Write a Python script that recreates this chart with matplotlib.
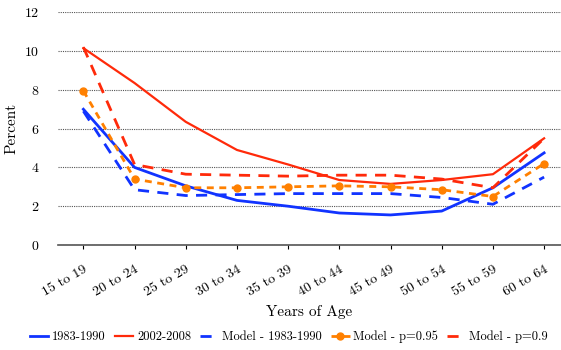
import matplotlib
matplotlib.use("Agg")
import matplotlib.pyplot as plt

plt.rcParams["font.family"] = ["cmr10", "DejaVu Serif"]
plt.rcParams["axes.formatter.use_mathtext"] = True
plt.rcParams["mathtext.fontset"] = "cm"

AGE_GROUPS = ["15 to 19", "20 to 24", "25 to 29", "30 to 34", "35 to 39",
              "40 to 44", "45 to 49", "50 to 54", "55 to 59", "60 to 64"]

obs_1983 = [7.0, 4.0, 3.05, 2.3, 2.0, 1.65, 1.55, 1.75, 2.95, 4.75]
obs_2002 = [10.15, 8.35, 6.35, 4.9, 4.15, 3.35, 3.15, 3.35, 3.65, 5.5]
model_1983 = [6.9, 2.85, 2.55, 2.6, 2.65, 2.65, 2.65, 2.45, 2.1, 3.5]
model_p095 = [7.95, 3.4, 2.95, 2.95, 3.0, 3.05, 3.0, 2.85, 2.5, 4.2]
model_p090 = [10.2, 4.15, 3.65, 3.6, 3.55, 3.6, 3.6, 3.4, 2.95, 5.5]

BLUE = "#1133ff"
RED = "#ff2a0a"
ORANGE = "#ff8000"

fig = plt.figure(figsize=(5.61, 3.5), dpi=100)
ax = fig.add_axes([0.103, 0.30, 0.897, 0.665])

x = list(range(len(AGE_GROUPS)))
ax.plot(x, obs_1983, color=BLUE, lw=2, label="1983-1990")
ax.plot(x, obs_2002, color=RED, lw=1.6, label="2002-2008")
ax.plot(x, model_1983, color=BLUE, lw=2, ls=(0, (4, 3)), label="Model - 1983-1990")
ax.plot(x, model_p095, color=ORANGE, lw=2, ls=(0, (2.5, 2)), marker="o",
        ms=5, label="Model - p=0.95")
ax.plot(x, model_p090, color=RED, lw=2, ls=(0, (4, 3)), label="Model - p=0.9")

ax.set_xlim(-0.5, 9.33)
ax.set_ylim(0, 12)
ax.set_yticks(range(0, 13, 2))
ax.set_xticks(x)
ax.set_xticklabels(AGE_GROUPS, rotation=30, ha="right", rotation_mode="anchor",
                   fontsize=10)
ax.tick_params(axis="y", length=0, labelsize=10, pad=13)
ax.tick_params(axis="x", length=3, width=0.8, direction="out", pad=10)
ax.yaxis.grid(True, color="#555555", ls=(0, (1, 1)), lw=0.8)
for side in ["top", "right", "left"]:
    ax.spines[side].set_visible(False)
ax.spines["bottom"].set_color("#555555")
ax.spines["bottom"].set_linewidth(1.2)

ax.set_ylabel("Percent", fontsize=11)
ax.yaxis.set_label_coords(-0.079, 0.5)
ax.set_xlabel("Years of Age", fontsize=11, labelpad=5)

fig.legend(loc="lower center", bbox_to_anchor=(0.515, -0.012), ncol=5,
           frameon=False, fontsize=9, handlelength=1.5, handletextpad=0.3,
           columnspacing=0.7)

fig.savefig("out.png", dpi=100)
